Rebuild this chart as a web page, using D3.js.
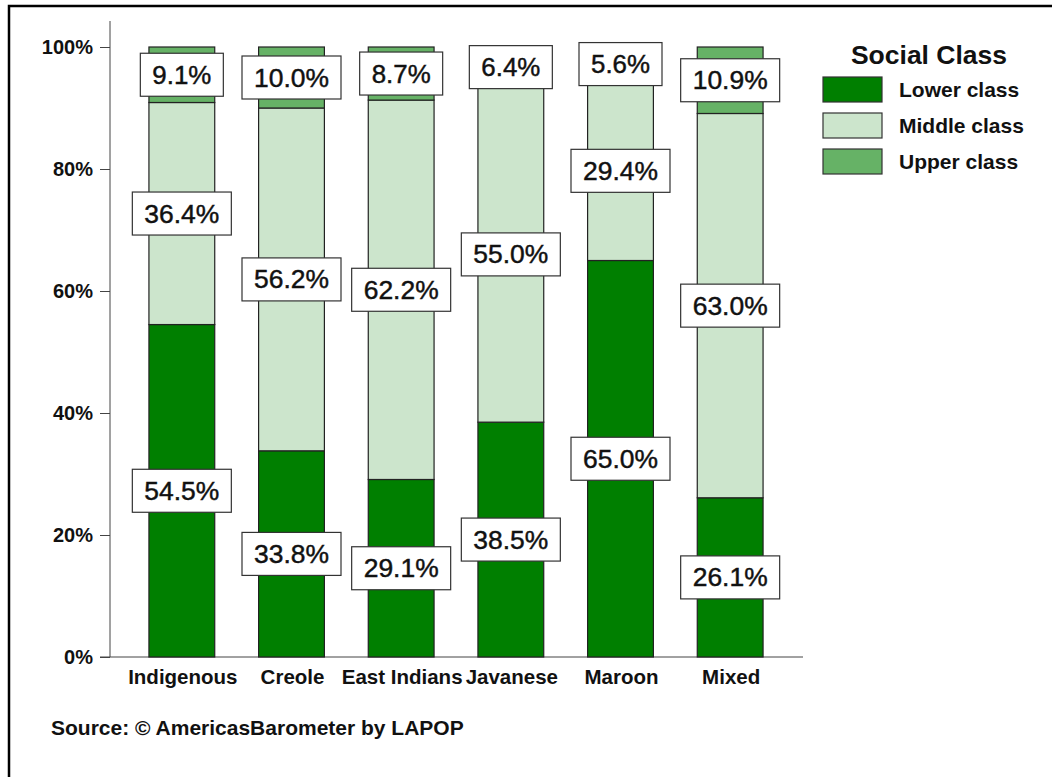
<!DOCTYPE html>
<html>
<head>
<meta charset="utf-8">
<script src="https://cdn.jsdelivr.net/npm/d3@7"></script>
<style>
  body { margin: 0; background: #fff; }
  svg { display: block; font-family: "Liberation Sans", Arial, sans-serif; }
</style>
</head>
<body>
<svg id="chart" width="1052" height="777"></svg>
<script>
// data (percent of respondents)
const groups = ["Indigenous", "Creole", "East Indians", "Javanese", "Maroon", "Mixed"];
const classes = ["Lower class", "Middle class", "Upper class"];
const lower = [54.5, 33.8, 29.1, 38.5, 65.0, 26.1];
const middle = [36.4, 56.2, 62.2, 55.0, 29.4, 63.0];
const upper = [9.1, 10.0, 8.7, 6.4, 5.6, 10.9];
const yTicks = [0, 20, 40, 60, 80, 100];
const colours = ["#007f00", "#cce5cc", "#66b266"];

const svg = d3.select("#chart");
const fmt = d3.format(".1f");

// frame (only left and top edges show in the picture)
svg.append("rect")
    .attr("x", 9).attr("y", 6)
    .attr("width", 1100).attr("height", 800)
    .attr("fill", "none")
    .attr("stroke", "#000")
    .attr("stroke-width", 2.5);

const x = d3.scaleBand()
    .domain(groups)
    .range([127, 785])
    .paddingInner(0.4)
    .paddingOuter(0.2);

const y = d3.scaleLinear()
    .domain([0, 100])
    .range([657, 47]);

// build stacked rows
const rows = groups.map(function(g, i) {
  return {group: g, "Lower class": lower[i], "Middle class": middle[i], "Upper class": upper[i]};
});
const stacked = d3.stack().keys(classes)(rows);

// y axis
const yAxis = svg.append("g")
    .attr("transform", "translate(110,0)")
    .call(d3.axisLeft(y).tickValues(yTicks).tickSize(10).tickPadding(7)
      .tickFormat(function(d) { return d + "%"; }));
yAxis.select(".domain").remove();
yAxis.selectAll("line").attr("stroke", "#444");
yAxis.selectAll("text")
    .attr("font-size", 20)
    .attr("font-weight", "bold")
    .attr("fill", "#111")
    .attr("font-family", "Liberation Sans, Arial, sans-serif");
svg.append("line")
    .attr("x1", 110).attr("x2", 110)
    .attr("y1", 21).attr("y2", y(0))
    .attr("stroke", "#444");
svg.append("line")
    .attr("x1", 100).attr("x2", 803)
    .attr("y1", y(0)).attr("y2", y(0))
    .attr("stroke", "#444");

// bars
const layers = svg.append("g").selectAll("g")
    .data(stacked)
    .enter()
    .append("g")
    .attr("fill", function(d, i) { return colours[i]; });

layers.selectAll("rect")
    .data(function(d) { return d; })
    .enter()
    .append("rect")
    .attr("x", function(d) { return x(d.data.group); })
    .attr("width", x.bandwidth())
    .attr("y", function(d) { return y(d[1]); })
    .attr("height", function(d) { return y(d[0]) - y(d[1]); })
    .attr("stroke", "#222")
    .attr("stroke-width", 1.2);

// value labels in white boxes
const labels = [];
stacked.forEach(function(layer) {
  layer.forEach(function(d) {
    labels.push({
      cx: x(d.data.group) + x.bandwidth() / 2,
      cy: y((d[0] + d[1]) / 2),
      text: fmt(d[1] - d[0]) + "%"
    });
  });
});

const lab = svg.append("g").selectAll("g")
    .data(labels)
    .enter()
    .append("g")
    .attr("transform", function(d) { return "translate(" + d.cx + "," + d.cy + ")"; });

// text width fixed per character count so boxes match the original
function textW(s) { return 16 * s.length - 5; }

lab.append("rect")
    .attr("x", function(d) { return -(textW(d.text) + 24) / 2; })
    .attr("y", -21.5)
    .attr("width", function(d) { return textW(d.text) + 24; })
    .attr("height", 43)
    .attr("fill", "#fff")
    .attr("stroke", "#333")
    .attr("stroke-width", 1.2);

lab.append("text")
    .attr("text-anchor", "middle")
    .attr("dy", "0.36em")
    .attr("transform", "scale(1,1.09)")
    .attr("font-size", 23)
    .attr("textLength", function(d) { return textW(d.text); })
    .attr("lengthAdjust", "spacingAndGlyphs")
    .attr("fill", "#111")
    .attr("stroke", "#111")
    .attr("stroke-width", 0.4)
    .text(function(d) { return d.text; });

// category labels
svg.append("g").selectAll("text")
    .data(groups)
    .enter()
    .append("text")
    .attr("x", function(d) { return x(d) + x.bandwidth() / 2 + 1; })
    .attr("y", 684)
    .attr("text-anchor", "middle")
    .attr("font-size", 20.5)
    .attr("font-weight", "bold")
    .attr("fill", "#111")
    .text(function(d) { return d; });

// legend
const legend = svg.append("g");
legend.append("text")
    .attr("x", 929).attr("y", 64)
    .attr("text-anchor", "middle")
    .attr("font-size", 26.5)
    .attr("font-weight", "bold")
    .attr("fill", "#111")
    .text("Social Class");

const items = legend.selectAll("g.item")
    .data(classes)
    .enter()
    .append("g")
    .attr("class", "item")
    .attr("transform", function(d, i) { return "translate(823," + (77 + i * 36) + ")"; });

items.append("rect")
    .attr("width", 59).attr("height", 25)
    .attr("fill", function(d, i) { return colours[i]; })
    .attr("stroke", "#333")
    .attr("stroke-width", 1.2);

items.append("text")
    .attr("x", 76).attr("y", 12.5)
    .attr("dy", "0.36em")
    .attr("font-size", 21)
    .attr("font-weight", "bold")
    .attr("fill", "#111")
    .text(function(d) { return d; });

// source note
svg.append("text")
    .attr("x", 51).attr("y", 735)
    .attr("font-size", 21)
    .attr("font-weight", "bold")
    .attr("fill", "#111")
    .text("Source: \u00a9 AmericasBarometer by LAPOP");
</script>
</body>
</html>
